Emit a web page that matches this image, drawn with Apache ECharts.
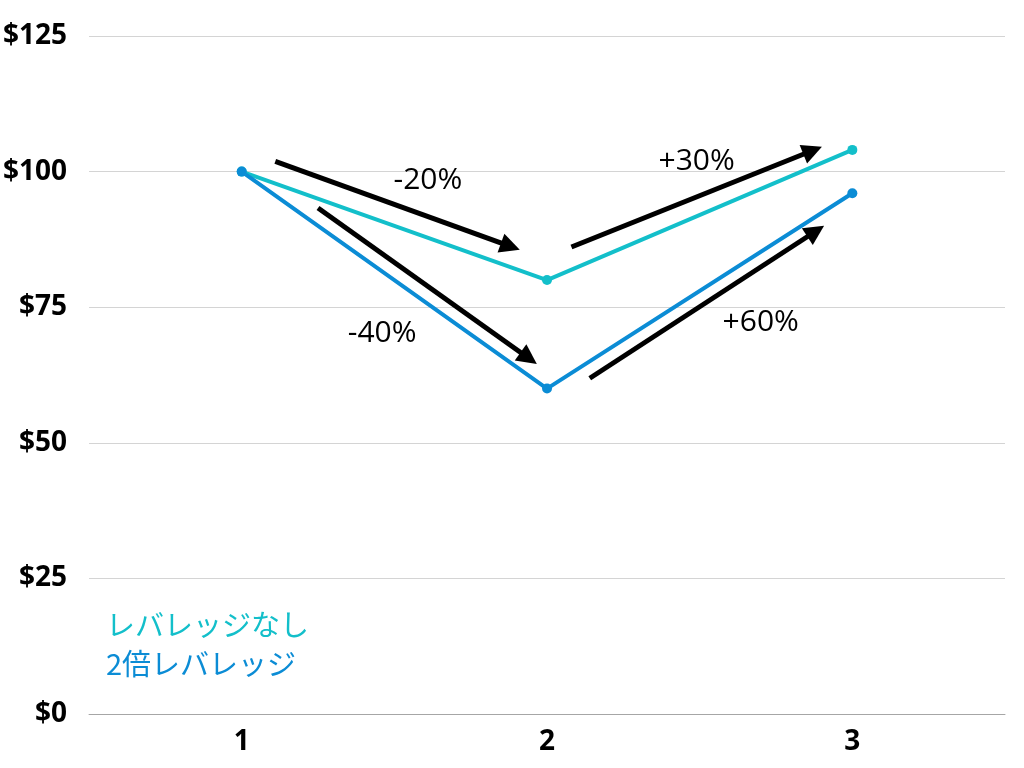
<!DOCTYPE html>
<html>
<head>
<meta charset="utf-8">
<script src="https://cdn.jsdelivr.net/npm/echarts@6/dist/echarts.min.js"></script>
<style>
  html, body { margin: 0; padding: 0; background: #fff; }
  #chart { width: 1024px; height: 768px; }
</style>
</head>
<body>
<div id="chart"></div>
<script>
// data
var periods = ['1', '2', '3'];
var noLeverage = [100, 80, 104];
var doubleLeverage = [100, 60, 96];
var seriesNames = ['レバレッジなし', '2倍レバレッジ'];

// arrows drawn on a hidden value axis (0.5 .. 3.5 across the plot)
var arrowCoords = [
  [[1.11, 101.9], [1.88, 86.2]],
  [[1.25, 93.3], [1.94, 65.6]],
  [[2.08, 86.1], [2.87, 103.9]],
  [[2.14, 61.9], [2.88, 89.0]]
];
var changeLabels = ['-20%', '-40%', '+30%', '+60%'];
var changeLabelPos = [[1.61, 98.4], [1.46, 70.2], [2.49, 101.8], [2.70, 72.1]];

var teal = '#13bfca';
var blue = '#0b8cd5';

var chart = echarts.init(document.getElementById('chart'));

var option = {
  animation: false,
  grid: { left: 87, right: 19, top: 36, bottom: 54, containLabel: false },
  legend: {
    orient: 'vertical',
    left: 96,
    top: 605,
    icon: 'none',
    itemWidth: 0,
    itemGap: 10,
    selectedMode: false,
    data: [
      { name: seriesNames[0], textStyle: { color: teal } },
      { name: seriesNames[1], textStyle: { color: blue } }
    ],
    textStyle: { fontSize: 29, fontFamily: 'Noto Sans CJK JP' }
  },
  xAxis: [{
    type: 'category',
    data: periods,
    boundaryGap: true,
    axisLine: { lineStyle: { color: '#a6a6a6', width: 1 } },
    axisTick: { show: false },
    axisLabel: { color: '#000', fontSize: 28, fontWeight: 'bold', fontFamily: 'Open Sans', margin: 14 }
  }, {
    type: 'value',
    min: 0.5,
    max: 3.5,
    show: false
  }],
  yAxis: {
    type: 'value',
    min: 0,
    max: 125,
    interval: 25,
    axisLine: { show: false },
    axisTick: { show: false },
    splitLine: { lineStyle: { color: '#d4d4d4', width: 1 } },
    axisLabel: {
      color: '#000', fontSize: 28, fontWeight: 'bold', fontFamily: 'Open Sans', margin: 22,
      formatter: function (v) { return '$' + v; }
    }
  },
  series: [{
    name: seriesNames[0],
    type: 'line',
    data: noLeverage,
    color: teal,
    lineStyle: { width: 4 },
    symbol: 'circle',
    symbolSize: 10,
    z: 3
  }, {
    name: seriesNames[1],
    type: 'line',
    data: doubleLeverage,
    color: blue,
    lineStyle: { width: 4 },
    symbol: 'circle',
    symbolSize: 10,
    z: 3
  }, {
    type: 'lines',
    coordinateSystem: 'cartesian2d',
    xAxisIndex: 1,
    yAxisIndex: 0,
    symbol: ['none', 'triangle'],
    symbolSize: [22, 20],
    lineStyle: { color: '#000', width: 5, opacity: 1 },
    itemStyle: { color: '#000' },
    data: arrowCoords.map(function (c) { return { coords: c }; }),
    z: 4
  }, {
    type: 'scatter',
    xAxisIndex: 1,
    yAxisIndex: 0,
    symbolSize: 0,
    itemStyle: { opacity: 1 },
    data: changeLabelPos.map(function (p, i) { return { value: p, name: changeLabels[i] }; }),
    label: {
      show: true,
      position: 'inside',
      color: '#000',
      fontSize: 30,
      fontFamily: 'Open Sans',
      formatter: function (p) { return p.name; }
    },
    silent: true
  }]
};

chart.setOption(option);
</script>
</body>
</html>
